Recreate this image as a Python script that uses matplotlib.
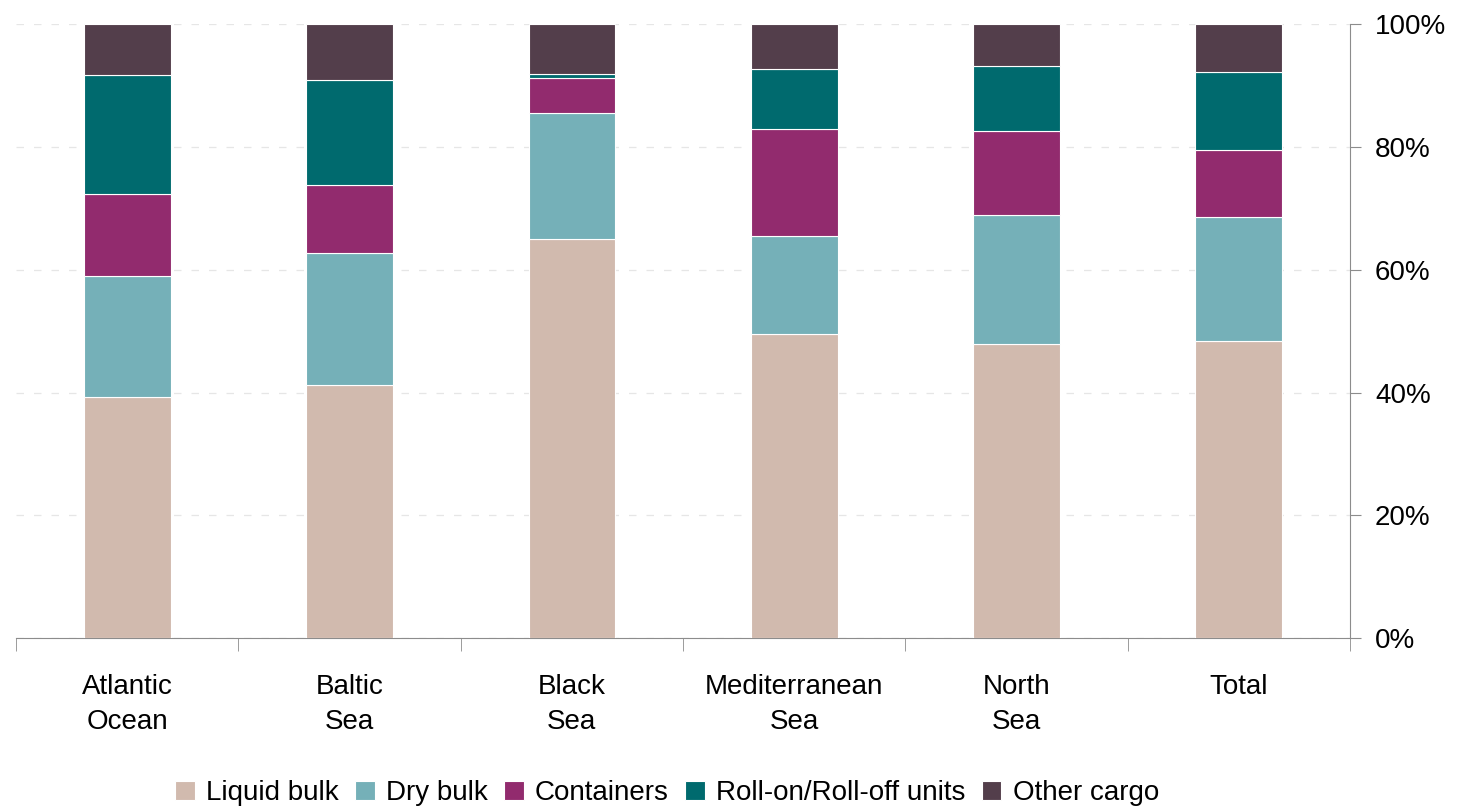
import numpy as np
import matplotlib.pyplot as plt
from matplotlib.ticker import FuncFormatter

plt.rcParams['font.family'] = ['Liberation Sans', 'DejaVu Sans']

# Datos (porcentaje del total por región)
regions = ['Atlantic\nOcean', 'Baltic\nSea', 'Black\nSea', 'Mediterranean\nSea', 'North\nSea', 'Total']
liquid_bulk = [39.3, 41.2, 65.1, 49.5, 48.0, 48.4]
dry_bulk = [19.7, 21.5, 20.4, 16.0, 20.9, 20.2]
containers = [13.3, 11.1, 5.7, 17.4, 13.7, 10.9]
roro = [19.4, 17.2, 0.7, 9.9, 10.6, 12.8]
other = [8.3, 9.0, 8.1, 7.2, 6.8, 7.7]

series = [
    ('Liquid bulk', liquid_bulk, '#D1BAAE'),
    ('Dry bulk', dry_bulk, '#75B0B8'),
    ('Containers', containers, '#922B6E'),
    ('Roll-on/Roll-off units', roro, '#006A6E'),
    ('Other cargo', other, '#533E4B'),
]

fig = plt.figure(figsize=(14.61, 8.10), dpi=100)
ax = fig.add_axes([0.011, 0.212, 0.913, 0.758])

x = np.arange(len(regions))
bottom = np.zeros(len(regions))
for name, vals, col in series:
    ax.bar(x, vals, 0.39, bottom=bottom, color=col, label=name,
           edgecolor='white', linewidth=0.8, zorder=3)
    bottom += np.array(vals)

ax.set_xlim(-0.5, len(regions) - 0.5)
ax.set_ylim(0, 100)
ax.set_yticks([0, 20, 40, 60, 80, 100])
ax.yaxis.set_major_formatter(FuncFormatter(lambda v, p: f'{v:.0f}%'))
ax.yaxis.tick_right()
ax.grid(axis='y', color='#e6e6e6', linestyle=(0, (6, 8)), linewidth=0.9, zorder=0)

for s in ['top', 'left']:
    ax.spines[s].set_visible(False)
ax.spines['right'].set_color('#8c8c8c')
ax.spines['bottom'].set_color('#8c8c8c')
ax.tick_params(axis='y', colors='#8c8c8c', labelcolor='black', labelsize=20, length=8, pad=10)

ax.set_xticks(x)
ax.set_xticklabels(regions, fontsize=20, linespacing=1.45)
ax.tick_params(axis='x', length=0, pad=26)
ax.set_xticks(np.arange(-0.5, len(regions), 1.0), minor=True)
ax.tick_params(axis='x', which='minor', length=9, colors='#8c8c8c')

ax.legend(loc='center', bbox_to_anchor=(0.488, -0.252), ncol=5, frameon=False,
          fontsize=20, handlelength=0.7, handleheight=0.7, handletextpad=0.4,
          columnspacing=0.6, borderaxespad=0)

fig.savefig('out.png', dpi=100)
